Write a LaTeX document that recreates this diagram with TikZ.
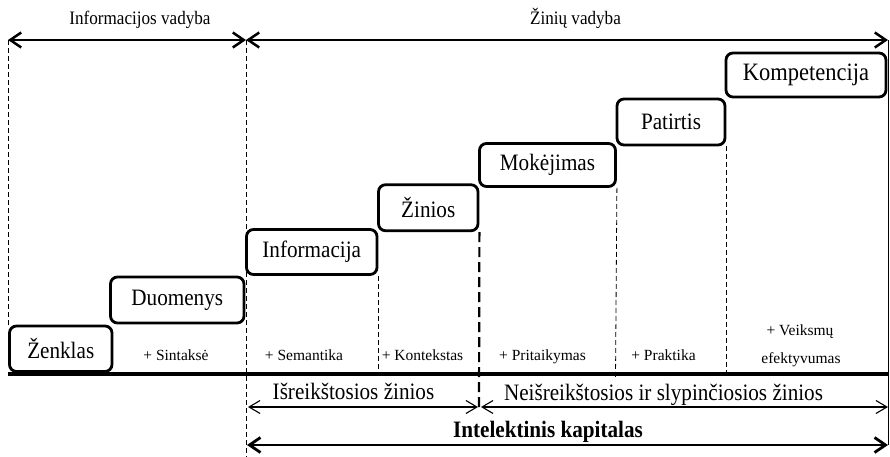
\documentclass[tikz,border=0pt]{standalone}
\usepackage{fontspec}
\setmainfont{Liberation Serif}
\newfontfamily\narrowserif[FakeStretch=0.9]{Liberation Serif}
\usetikzlibrary{arrows.meta}

\begin{document}
\begin{tikzpicture}[x=1pt,y=-1pt,
  stage/.style={draw, line width=2.8pt, rounded corners=7pt, inner sep=0pt,
    font=\narrowserif\fontsize{23.5}{26}\selectfont},
  guide/.style={line width=0.8pt, dash pattern=on 5pt off 3pt},
  guidebold/.style={line width=2.2pt, dash pattern=on 10pt off 5pt},
  bighead/.tip={Straight Barb[length=11pt,width=15pt]},
  smallhead/.tip={Straight Barb[length=11pt,width=13pt]},
  span/.style={line width=2.5pt, bighead-bighead},
  thinspan/.style={line width=1.1pt, smallhead-smallhead},
  gain/.style={anchor=base, font=\fontsize{15.5}{17}\selectfont, inner sep=0pt},
  head/.style={anchor=base, font=\narrowserif\fontsize{19}{22}\selectfont, inner sep=0pt},
  kind/.style={anchor=base, font=\narrowserif\fontsize{23.5}{26}\selectfont, inner sep=0pt},
]
\useasboundingbox (0,0) rectangle (890,457);

% stairs of knowledge levels
\node[stage, minimum width=102.5pt, minimum height=45.5pt] (zenklas) at (60.75,348.75) {Ženklas};
\node[stage, minimum width=133.5pt, minimum height=46pt] (duomenys) at (177.25,300) {Duomenys};
\node[stage, minimum width=130.5pt, minimum height=45pt] (informacija) at (311.75,252) {Informacija};
\node[stage, minimum width=99.5pt, minimum height=46pt] (zinios) at (428.25,207.75) {Žinios};
\node[stage, minimum width=136pt, minimum height=43pt] (mokejimas) at (547.5,165) {Mokėjimas};
\node[stage, minimum width=108pt, minimum height=46pt] (patirtis) at (671,122) {Patirtis};
\node[stage, minimum width=160pt, minimum height=44pt, font=\narrowserif\fontsize{25}{28}\selectfont] (kompetencija) at (806,75) {Kompetencija};

% reference points
\coordinate (iv-l) at (8,40);
\coordinate (split) at (246,40);
\coordinate (zv-r) at (888,40);
\coordinate (split-b) at (246,457);
\coordinate (base-l) at (8,374);
\coordinate (base-r) at (888,374);
\coordinate (isr-l) at (248,407);
\coordinate (isr-r) at (478,407);
\coordinate (nei-l) at (481,407);
\coordinate (nei-r) at (888,407);
\coordinate (ik-l) at (247,445);
\coordinate (ik-r) at (888,445);
\coordinate (tacit-b) at (479,411);
\coordinate (mok-b) at (615.5,378);

% dashed guides
\draw[guide] (iv-l) -- (iv-l |- zenklas.north);
\draw[guide] (split) -- (split-b);
\draw[guide] (informacija.south east) -- (informacija.south east |- base-l);
\draw[guidebold] (zinios.south east) -- (tacit-b);
\draw[guide] (mokejimas.south east) -- (mok-b);
\draw[guide] (patirtis.south east) -- (patirtis.south east |- base-l);
\draw[line width=0.8pt] (zv-r) -- (ik-r);

% ground line
\draw[line width=3.5pt] (base-l) -- (base-r);

% management spans
\draw[span] (iv-l) -- (split);
\draw[span] (split) -- (zv-r);
\node[head] (iv-t) at (140,25) {Informacijos vadyba};
\node[head] (zv-t) at (575.5,25) {Žinių vadyba};

% gains between levels
\node[gain] (g1) at (176,360) {+ Sintaksė};
\node[gain] (g2) at (304,360) {+ Semantika};
\node[gain] (g3) at (422.5,360) {+ Kontekstas};
\node[gain] (g4) at (542.5,360) {+ Pritaikymas};
\node[gain] (g5) at (663.5,360) {+ Praktika};
\node[gain] (g6a) at (800,335) {+ Veiksmų};
\node[gain] (g6b) at (801,363) {efektyvumas};

% kinds of knowledge
\draw[thinspan] (isr-l) -- (isr-r);
\draw[thinspan] (nei-l) -- (nei-r);
\node[kind] (isr-t) at (353.5,399) {Išreikštosios žinios};
\node[kind] (nei-t) at (663.5,400) {Neišreikštosios ir slypinčiosios žinios};

% intellectual capital
\draw[line width=2.8pt, bighead-bighead] (ik-l) -- (ik-r);
\node[anchor=base, inner sep=0pt, font=\narrowserif\fontsize{23.5}{26}\selectfont\bfseries] (ik-t) at (548,437) {Intelektinis kapitalas};
\end{tikzpicture}
\end{document}
